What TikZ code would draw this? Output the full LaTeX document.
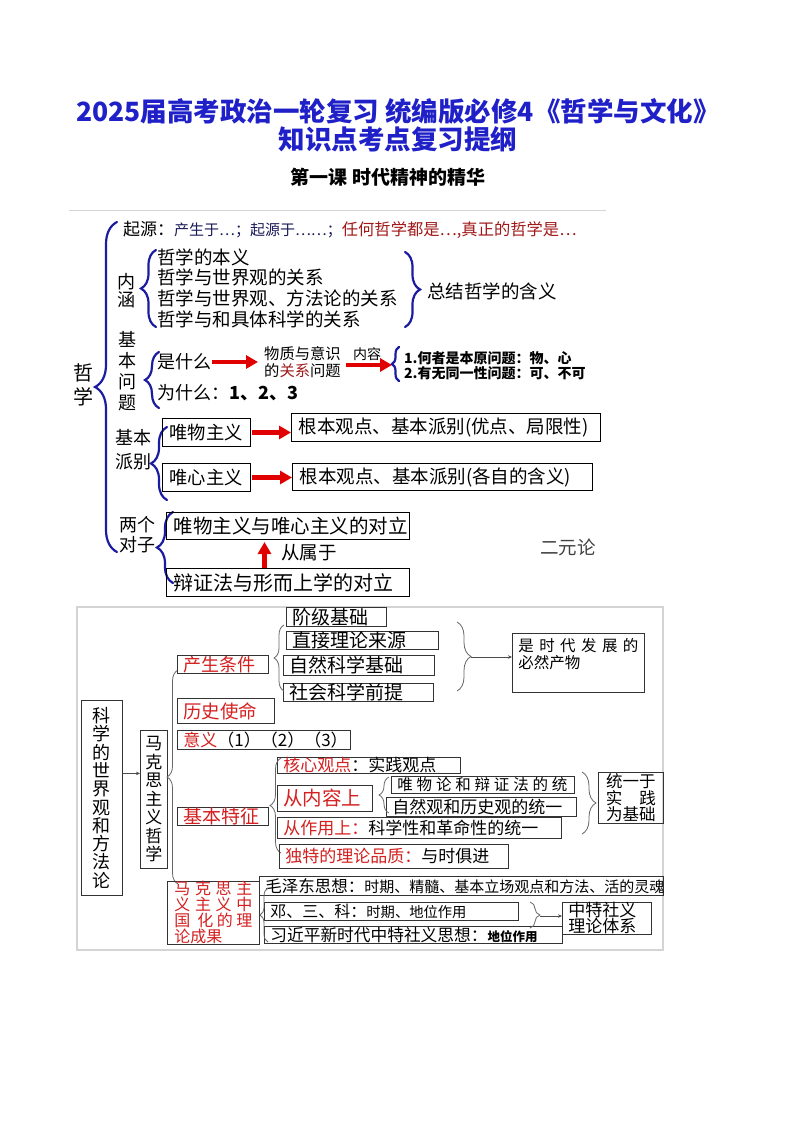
\documentclass[tikz,border=0pt]{standalone}
\usepackage{fontspec}
\setmainfont{Noto Sans CJK SC}
\usepackage{xcolor}
\usepackage{tikz}
\usetikzlibrary{positioning, arrows.meta, decorations.pathreplacing}
\definecolor{titleblue}{HTML}{2020C8}
\definecolor{braceblue}{HTML}{1C1CA0}
\definecolor{arrowred}{HTML}{E00000}
\definecolor{darkred}{HTML}{A01818}
\definecolor{headred}{HTML}{D42020}
\definecolor{navytext}{HTML}{1A1A5A}
\definecolor{framegray}{HTML}{D4D4D4}
\newcommand{\fsz}[2]{\fontsize{#1}{#2}\selectfont}

\begin{document}
\begin{tikzpicture}[x=1pt, y=-1pt,
    txt/.style={inner sep=0pt},
    upbox/.style={draw=black, line width=1pt, anchor=north west, inner xsep=7pt, inner ysep=0pt, align=left},
    lowbox/.style={draw=black!80, line width=0.8pt, anchor=north west, inner xsep=6pt, inner ysep=0pt, align=left},
    bluebrace/.style={draw=braceblue, line width=2.2pt, line cap=round, decorate, decoration={brace, amplitude=#1}},
    thinbrace/.style={draw=black!60, line width=0.8pt, decorate, decoration={brace, amplitude=#1}},
    redarrow/.style={draw=arrowred, line width=4.5pt, -{Triangle[length=12pt, width=13pt]}},
    thinarrow/.style={draw=black!70, line width=0.8pt, -{Stealth[length=4pt, width=3.5pt]}}]
  \useasboundingbox (0,0) rectangle (794,1123);
  \fill[white] (0,0) rectangle (794,1123);

  % title
  \node[txt, text=titleblue, font=\fsz{26.5}{30}\bfseries] (title1) at (398,111) {2025届高考政治一轮复习 统编版必修4《哲学与文化》};
  \node[txt, text=titleblue, font=\fsz{26.5}{30}\bfseries] (title2) at (398,139) {知识点考点复习提纲};
  \node[txt, font=\fsz{19}{22}\bfseries] (lesson) at (388,177) {第一课 时代精神的精华};

  % philosophy
  \draw[framegray, line width=1pt] (69,211) -- (606,211);
  \node[txt, anchor=west] (origin) at (123,230) {{\fsz{17}{19}起源：}{\fsz{15}{17}\color{navytext}产生于…；起源于……；}{\fsz{16.3}{18}\color{darkred}任何哲学都是…,真正的哲学是…}};
  \draw[bluebrace=22pt] (117,552) -- (117,222);
  \node[txt, align=center, font=\fsz{20}{24}] (philo) at (83,385) {哲\\学};

  \node[txt, align=center, font=\fsz{18}{18}] (meaning) at (126,291) {内\\涵};
  \draw[bluebrace=15pt] (156,327) -- (156,250);
  \node[txt, anchor=west, align=left, font=\fsz{18.5}{20.7}] (items) at (157,288) {哲学的本义\\哲学与世界观的关系\\哲学与世界观、方法论的关系\\哲学与和具体科学的关系};
  \draw[bluebrace=15pt] (405,252) -- (405,327);
  \node[txt, anchor=west, font=\fsz{18.5}{20}] (summary) at (427,291) {总结哲学的含义};

  \node[txt, align=center, font=\fsz{18}{21}] (basicq) at (127,371) {基\\本\\问\\题};
  \draw[bluebrace=14pt] (159,408) -- (159,352);
  \node[txt, anchor=west, font=\fsz{18}{20}] (what) at (157,362) {是什么};
  \node[txt, anchor=west, align=left, font=\fsz{15.3}{17}] (matter) at (264,362) {物质与意识\\的{\color{darkred}关系}问题};
  \draw[redarrow, shorten >=6pt, shorten <=1pt] (what) -- (matter);
  \node[txt, anchor=west, font=\fsz{14}{16}] (content) at (353,354) {内容};
  \coordinate (anstip) at (392,365);
  \draw[redarrow, shorten <=5pt] ([yshift=-3pt]matter.east) -- (anstip);
  \draw[bluebrace=7pt] (399,381) -- (399,347);
  \node[txt, anchor=west, align=left, font=\fsz{14}{15}\bfseries] (answers) at (404,365.5) {1.何者是本原问题：物、心\\2.有无同一性问题：可、不可};
  \node[txt, anchor=west, font=\fsz{18}{20}] (why) at (157,393) {为什么：\textbf{1、2、3}};

  \node[txt, align=center, font=\fsz{18}{24}] (schools) at (133,450) {基本\\派别};
  \draw[bluebrace=16pt] (167,500) -- (167,427);
  \node[upbox, text width=74pt, minimum height=28pt, font=\fsz{18.3}{20}] (mat) at (162,418) {唯物主义};
  \node[upbox, text width=295pt, minimum height=28pt, font=\fsz{18.5}{20}] (matview) at (291,413) {根本观点、基本派别(优点、局限性)};
  \node[upbox, text width=74pt, minimum height=28pt, font=\fsz{18.3}{20}] (ideal) at (162,463) {唯心主义};
  \node[upbox, text width=286pt, minimum height=27pt, font=\fsz{18.5}{20}] (idealview) at (292,463) {根本观点、基本派别(各自的含义)};
  \draw[redarrow, shorten <=1pt] (mat.east) -- (mat.east -| matview.west);
  \draw[redarrow, shorten <=1pt] (ideal.east) -- (ideal.east -| idealview.west);

  \node[txt, align=center, font=\fsz{18}{20}] (pairs) at (137,535) {两个\\对子};
  \draw[bluebrace=16pt] (173,583) -- (173,512);
  \node[upbox, text width=229pt, minimum height=27pt, font=\fsz{19.5}{22}] (opp1) at (166,512) {唯物主义与唯心主义的对立};
  \node[upbox, text width=229pt, minimum height=28pt, font=\fsz{20}{22}] (opp2) at (166,568) {辩证法与形而上学的对立};
  \draw[redarrow, shorten >=2pt] ([xshift=-23.5pt]opp2.north) -- ([xshift=-23.5pt]opp1.south);
  \node[txt, font=\fsz{18.5}{20}] (subord) at (309,553) {从属于};
  \node[txt, text=black!75, font=\fsz{18.5}{20}] (dualism) at (568,547) {二元论};

  % marxist philosophy
  \draw[framegray, line width=1.5pt] (77,607) rectangle (663,950);
  \node[lowbox, inner xsep=0pt, minimum width=41pt, minimum height=195pt, align=center, font=\fsz{18}{18.3}] (worldview) at (81,700) {科\\学\\的\\世\\界\\观\\和\\方\\法\\论};
  \node[lowbox, inner xsep=0pt, minimum width=27pt, minimum height=138pt, align=center, font=\fsz{17}{18.5}] (marx) at (140,730) {马\\克\\思\\主\\义\\哲\\学};
  \draw[thinarrow] ([yshift=24.5pt]worldview.east) -- ([yshift=24.5pt]worldview.east -| marx.west);
  \draw[thinbrace=11pt] (178,884) -- (178,670);

  \node[lowbox, text width=79pt, minimum height=18pt, text=headred, font=\fsz{18}{20}] (cond) at (177,655) {产生条件};
  \node[lowbox, text width=85pt, minimum height=25pt, text=headred, font=\fsz{18.5}{20}] (mission) at (177,698) {历史使命};
  \node[lowbox, text width=161pt, minimum height=19pt, font=\fsz{17}{19}] (signif) at (177,730) {{\color{headred}意义}（1）（2）（3）};

  \node[lowbox, text width=88pt, minimum height=19pt, font=\fsz{19}{20}] (classbase) at (286,607) {阶级基础};
  \node[lowbox, text width=140pt, minimum height=18pt, font=\fsz{19}{20}] (theory) at (286,631) {直接理论来源};
  \node[lowbox, text width=139pt, minimum height=20pt, font=\fsz{19}{20}] (science) at (283,655) {自然科学基础};
  \node[lowbox, text width=138pt, minimum height=18pt, font=\fsz{19}{20}] (socialsci) at (283,683) {社会科学前提};
  \draw[thinbrace=10pt] (284,691) -- (284,625);
  \draw[thinbrace=14pt] (457,622) -- (457,691);
  \coordinate (condtip) at (471,657);
  \node[lowbox, inner ysep=5pt, font=\fsz{15.5}{17}] (era) at (512,633) {\parbox[t][49pt][t]{120pt}{\makebox[120pt][s]{是\hfill 时\hfill 代\hfill 发\hfill 展\hfill 的}\\必然产物}};
  \draw[thinarrow] (condtip) -- (condtip -| era.west);

  \node[lowbox, text width=171pt, minimum height=16pt, font=\fsz{17}{19}] (core) at (277,757) {{\color{headred}核心观点}：实践观点};
  \node[lowbox, text width=83pt, minimum height=26pt, text=headred, font=\fsz{19.5}{21}] (bycontent) at (277,785) {从内容上};
  \node[lowbox, text width=171pt, minimum height=17pt, font=\fsz{15.5}{17}] (unity1) at (391,776) {\makebox[170pt][s]{唯\hfill 物\hfill 论\hfill 和\hfill 辩\hfill 证\hfill 法\hfill 的\hfill 统}};
  \node[lowbox, text width=178pt, minimum height=19pt, font=\fsz{17}{19}] (unity2) at (386,797) {自然观和历史观的统一};
  \draw[thinbrace=10pt] (389,813) -- (389,777);
  \node[lowbox, text width=79pt, minimum height=18pt, text=headred, font=\fsz{19}{20}] (feature) at (177,807) {基本特征};
  \draw[thinbrace=11pt] (281,853) -- (281,758);
  \node[lowbox, text width=272pt, minimum height=21pt, font=\fsz{17}{19}] (byrole) at (277,817) {{\color{headred}从作用上：}科学性和革命性的统一};
  \node[lowbox, text width=217pt, minimum height=24pt, font=\fsz{17}{19}] (quality) at (279,844) {{\color{headred}独特的理论品质：}与时俱进};
  \draw[thinbrace=14pt] (582,772) -- (582,834);
  \node[lowbox, inner xsep=7.5pt, minimum height=51pt, align=center, font=\fsz{16.5}{16.5}] (practice) at (598,772) {统一于\\\makebox[50pt][s]{实\hfill 践}\\为基础};

  \node[lowbox, inner xsep=7pt, minimum height=62pt, text=headred, font=\fsz{16}{16}] (sinic) at (167,881) {\makebox[78pt][s]{马\hfill 克\hfill 思\hfill 主}\\\makebox[78pt][s]{义\hfill 主\hfill 义\hfill 中}\\\makebox[78pt][s]{国\hfill\hfill 化\hfill 的\hfill 理}\\论成果};
  \node[lowbox, text width=392pt, minimum height=19pt] (mao) at (259,876) {{\fsz{16.5}{19}毛泽东思想：}{\fsz{15}{19}时期、精髓、基本立场观点和方法、活的灵魂}};
  \node[lowbox, text width=242pt, minimum height=18pt] (deng) at (264,902) {{\fsz{16}{18}邓、三、科：}{\fsz{14.3}{18}时期、地位作用}};
  \node[lowbox, text width=286pt, minimum height=17pt] (xi) at (264,926) {{\fsz{16.7}{18}习近平新时代中特社义思想：}{\fsz{12.5}{18}\bfseries 地位作用}};
  \draw[thinbrace=8pt] (268,942) -- (268,888);
  \draw[thinbrace=10pt] (530,902) -- (530,928);
  \coordinate (systip) at (540,916);
  \node[lowbox, text width=77pt, minimum height=31pt, font=\fsz{17}{16}] (system) at (562,902) {中特社义\\理论体系};
  \draw[thinarrow] (systip) -- (systip -| system.west);
\end{tikzpicture}
\end{document}
